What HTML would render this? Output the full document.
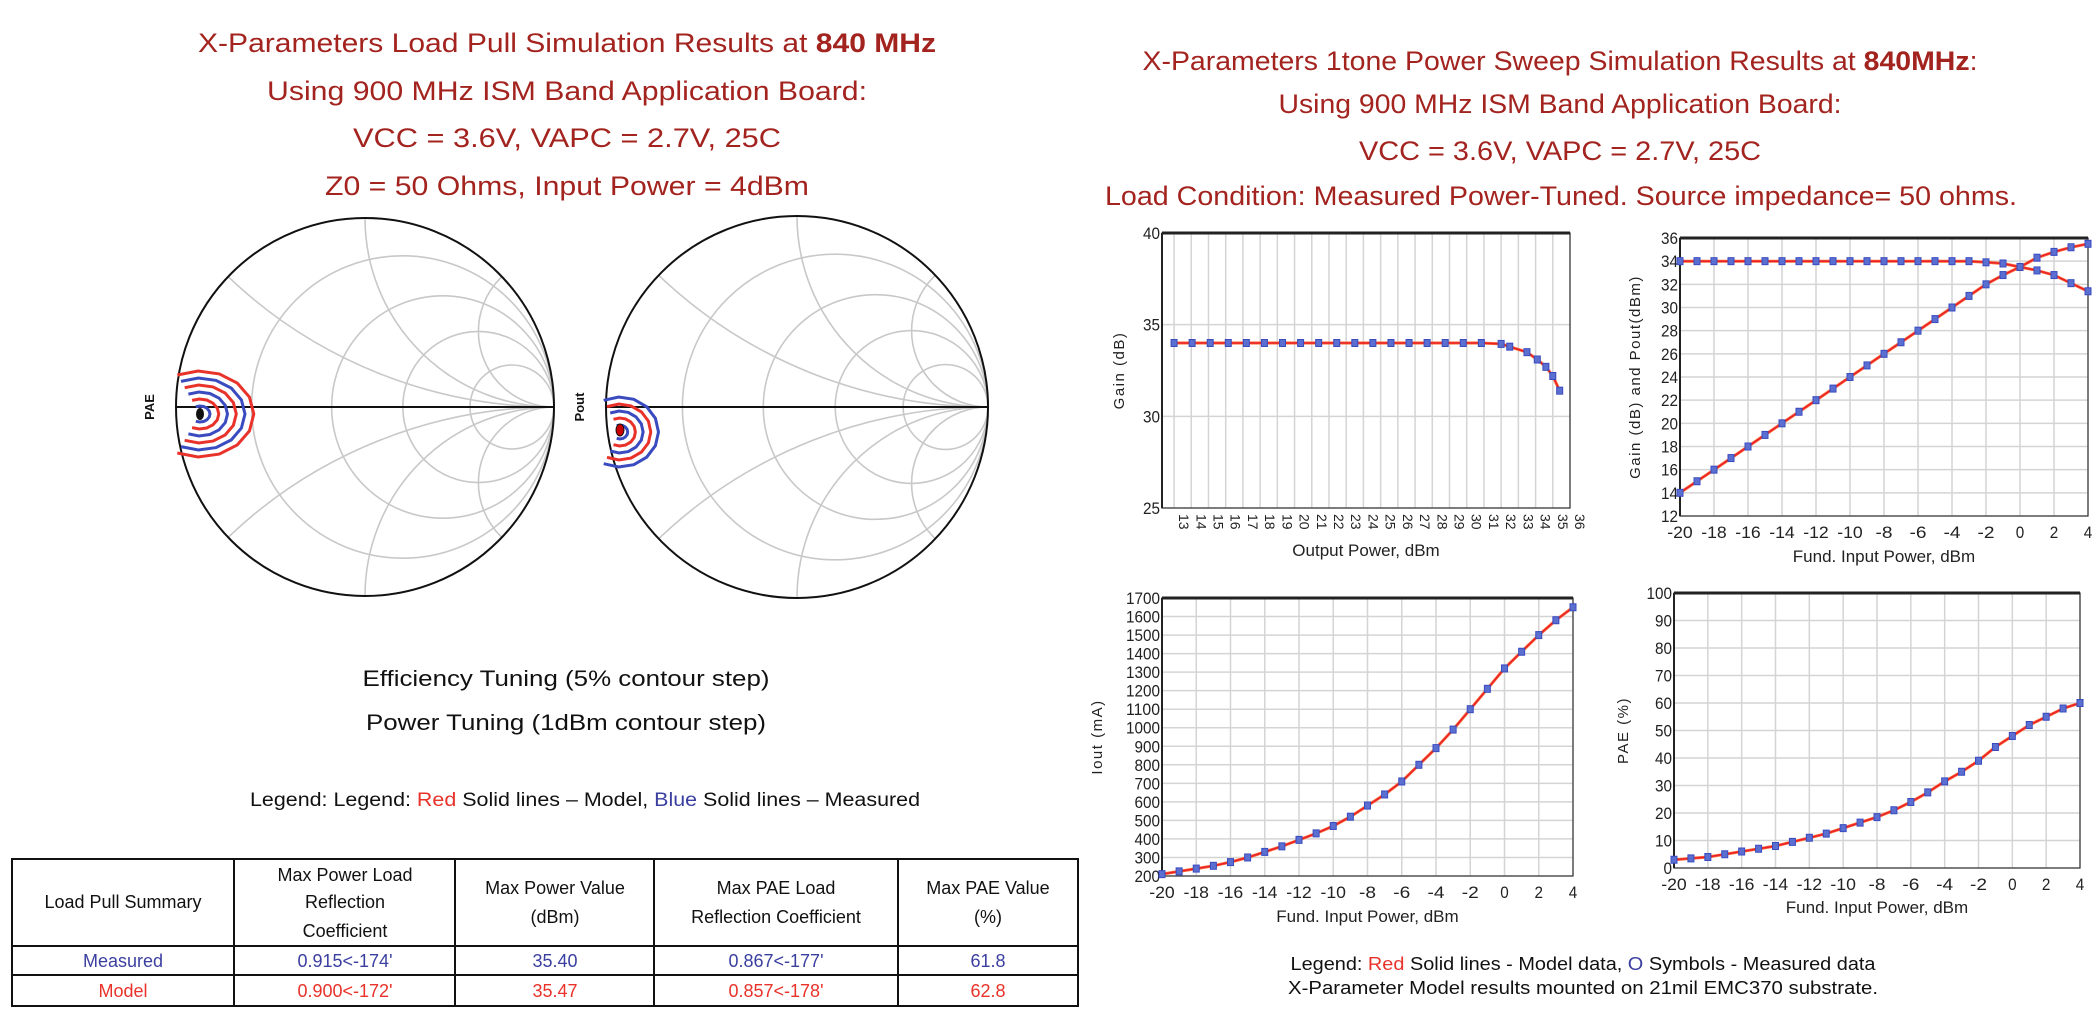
<!DOCTYPE html>
<html><head><meta charset="utf-8"><style>
html,body{margin:0;padding:0;background:#fff;width:2100px;height:1035px;overflow:hidden;}
svg{display:block;font-family:"Liberation Sans",Arial,sans-serif;}
</style></head><body>
<svg id="s" width="2100" height="1035" viewBox="0 0 2100 1035" xmlns="http://www.w3.org/2000/svg">
<rect width="2100" height="1035" fill="#fff"/>
<g fill="#a3231f" font-size="27" text-anchor="middle">
<text x="567" y="52" textLength="738" lengthAdjust="spacingAndGlyphs">X-Parameters Load Pull Simulation Results at <tspan font-weight="bold">840 MHz</tspan></text>
<text x="567" y="100" textLength="600" lengthAdjust="spacingAndGlyphs">Using 900 MHz ISM Band Application Board:</text>
<text x="567" y="147" textLength="428" lengthAdjust="spacingAndGlyphs">VCC = 3.6V, VAPC = 2.7V, 25C</text>
<text x="567" y="195" textLength="484" lengthAdjust="spacingAndGlyphs">Z0 = 50 Ohms, Input Power = 4dBm</text>
<text x="1560" y="70" textLength="835" lengthAdjust="spacingAndGlyphs">X-Parameters 1tone Power Sweep Simulation Results at <tspan font-weight="bold">840MHz</tspan>:</text>
<text x="1560" y="113" textLength="563" lengthAdjust="spacingAndGlyphs">Using 900 MHz ISM Band Application Board:</text>
<text x="1560" y="160" textLength="402" lengthAdjust="spacingAndGlyphs">VCC = 3.6V, VAPC = 2.7V, 25C</text>
<text x="1561" y="205" textLength="912" lengthAdjust="spacingAndGlyphs">Load Condition: Measured Power-Tuned.  Source impedance= 50 ohms.</text>
</g>
<g font-size="22" fill="#111" text-anchor="middle">
<text x="566" y="686" textLength="407" lengthAdjust="spacingAndGlyphs">Efficiency Tuning (5% contour step)</text>
<text x="566" y="730" textLength="400" lengthAdjust="spacingAndGlyphs">Power Tuning (1dBm contour step)</text>
<text x="585" y="806" font-size="19" textLength="670" lengthAdjust="spacingAndGlyphs">Legend: Legend: <tspan fill="#e8322a">Red</tspan> Solid lines – Model, <tspan fill="#3a3fa0">Blue</tspan> Solid lines – Measured</text>
</g>
<g stroke="#111" stroke-width="2" fill="none">
<rect x="12" y="859" width="1066" height="147"/>
<line x1="12" y1="946" x2="1078" y2="946"/><line x1="12" y1="975" x2="1078" y2="975"/>
<line x1="234" y1="859" x2="234" y2="1006"/><line x1="455" y1="859" x2="455" y2="1006"/>
<line x1="654" y1="859" x2="654" y2="1006"/><line x1="898" y1="859" x2="898" y2="1006"/>
</g>
<g font-size="18" fill="#111" text-anchor="middle">
<text x="123" y="908">Load Pull Summary</text>
<text x="345" y="881">Max Power Load</text><text x="345" y="908">Reflection</text><text x="345" y="937">Coefficient</text>
<text x="555" y="894">Max Power Value</text><text x="555" y="923">(dBm)</text>
<text x="776" y="894">Max PAE Load</text><text x="776" y="923">Reflection Coefficient</text>
<text x="988" y="894">Max PAE Value</text><text x="988" y="923">(%)</text>
<g fill="#3a3fa0"><text x="123" y="967">Measured</text><text x="345" y="967">0.915&lt;-174'</text><text x="555" y="967">35.40</text><text x="776" y="967">0.867&lt;-177'</text><text x="988" y="967">61.8</text></g>
<g fill="#e8322a"><text x="123" y="997">Model</text><text x="345" y="997">0.900&lt;-172'</text><text x="555" y="997">35.47</text><text x="776" y="997">0.857&lt;-178'</text><text x="988" y="997">62.8</text></g>
</g>
<g font-size="18" fill="#111" text-anchor="middle">
<text x="1583" y="970" textLength="585" lengthAdjust="spacingAndGlyphs">Legend: <tspan fill="#e8322a">Red</tspan> Solid lines - Model data, <tspan fill="#3a3fa0">O</tspan> Symbols - Measured data</text>
<text x="1583" y="994" textLength="590" lengthAdjust="spacingAndGlyphs">X-Parameter Model results mounted on 21mil EMC370 substrate.</text>
</g>
<g id="dyn"></g>
</svg>
<script>
var g=document.getElementById("dyn"),h="";
function smith(cx,cy,R,lab){
  h+='<g fill="none" stroke="#c8c8c8" stroke-width="1.6">';
  [0.25,0.7,1.5,3.5].forEach(function(r){var rr=R/(1+r);h+='<circle cx="'+(cx+R-rr)+'" cy="'+cy+'" r="'+rr+'"/>';});
  h+='<clipPath id="c'+cx+'"><circle cx="'+cx+'" cy="'+cy+'" r="'+R+'"/></clipPath><g clip-path="url(#c'+cx+')">';
  [0.4,1,2.5].forEach(function(x){var rr=R/x;h+='<circle cx="'+(cx+R)+'" cy="'+(cy-rr)+'" r="'+rr+'"/><circle cx="'+(cx+R)+'" cy="'+(cy+rr)+'" r="'+rr+'"/>';});
  h+='</g></g>';
  h+='<circle cx="'+cx+'" cy="'+cy+'" r="'+R+'" fill="none" stroke="#111" stroke-width="2"/>';
  h+='<line x1="'+(cx-R)+'" y1="'+cy+'" x2="'+(cx+R)+'" y2="'+cy+'" stroke="#111" stroke-width="2"/>';
  h+='<text transform="translate('+(cx-R-22)+','+cy+') rotate(-90)" font-size="13" font-weight="bold" text-anchor="middle" fill="#111">'+lab+'</text>';
}
smith(365,407,189,"PAE");smith(797,407,191,"Pout");
function contours(cx,cy,rs,sx){
  rs.forEach(function(r,i){
    var pts=[];for(var a=-115;a<=115;a+=23){var t=a*Math.PI/180;pts.push((cx+r*sx*Math.cos(t)).toFixed(1)+","+(cy+r*Math.sin(t)).toFixed(1));}
    h+='<polyline points="'+pts.join(" ")+'" fill="none" stroke="'+(i%2?"#e8322a":"#3a4bc0")+'" stroke-width="3"/>';
  });
}
contours(200,414,[8,15,22,29,36,43],1.25);
h+='<ellipse cx="200" cy="414" rx="4" ry="6" fill="#111"/>';
contours(620,432,[7,14,21,28,35],1.1);
h+='<ellipse cx="620" cy="430" rx="4" ry="6" fill="#c00" stroke="#111"/>';

function chart(o){
  var X=function(v){return o.l+(v-o.x0)/(o.x1-o.x0)*(o.r-o.l);},Y=function(v){return o.b-(v-o.y0)/(o.y1-o.y0)*(o.b-o.t);};
  h+='<g stroke="#d4d4d4" stroke-width="1.5">';
  o.xt.forEach(function(v){h+='<line x1="'+X(v)+'" y1="'+o.t+'" x2="'+X(v)+'" y2="'+o.b+'"/>';});
  o.yt.forEach(function(v){h+='<line x1="'+o.l+'" y1="'+Y(v)+'" x2="'+o.r+'" y2="'+Y(v)+'"/>';});
  h+='</g><rect x="'+o.l+'" y="'+o.t+'" width="'+(o.r-o.l)+'" height="'+(o.b-o.t)+'" fill="none" stroke="#333" stroke-width="1.2"/>';
  h+='<line x1="'+o.l+'" y1="'+o.t+'" x2="'+o.r+'" y2="'+o.t+'" stroke="#222" stroke-width="3"/>';
  h+='<line x1="'+o.l+'" y1="'+o.t+'" x2="'+o.l+'" y2="'+o.b+'" stroke="#222" stroke-width="2"/>';
  h+='<g font-size="17" fill="#222">';
  o.yt.forEach(function(v){h+='<text x="'+(o.l-2)+'" y="'+(Y(v)+6)+'" text-anchor="end" textLength="'+(String(v).length*8.5)+'" lengthAdjust="spacingAndGlyphs">'+v+'</text>';});
  o.xt.forEach(function(v){
    if(o.rot) h+='<text transform="translate('+(X(v)+5)+','+(o.b+6)+') rotate(90)" font-size="14">'+v+'</text>';
    else h+='<text x="'+X(v)+'" y="'+(o.b+22)+'" text-anchor="middle" textLength="'+(String(v).length*8.5)+'" lengthAdjust="spacingAndGlyphs">'+v+'</text>';
  });
  h+='<text x="'+((o.l+o.r)/2)+'" y="'+o.xy+'" text-anchor="middle">'+o.xl+'</text>';
  h+='<text transform="translate('+o.yx+','+((o.t+o.b)/2)+') rotate(-90)" text-anchor="middle" font-size="15" letter-spacing="1.5">'+o.yl+'</text></g>';
  o.series.forEach(function(s){
    var p=s.map(function(p){return X(p[0]).toFixed(1)+","+Y(p[1]).toFixed(1);}).join(" ");
    h+='<polyline points="'+p+'" fill="none" stroke="#ff5a1f" stroke-width="3" opacity="0.9"/>';
    h+='<polyline points="'+p+'" fill="none" stroke="#e8202a" stroke-width="1.5"/>';
    s.forEach(function(p){h+='<rect x="'+(X(p[0])-3)+'" y="'+(Y(p[1])-3.5)+'" width="6" height="7" fill="#5b6fd0" stroke="#3a4bc0" stroke-width="1"/>';});
  });
}
var xt=[];for(var i=13;i<=36;i++)xt.push(i);
var gs=[];for(var k=0;k<18;k++)gs.push([13+1.05*k,34]);
gs=gs.concat([[32,33.95],[32.5,33.8],[33.5,33.5],[34.1,33.1],[34.6,32.7],[35.0,32.2],[35.4,31.4]]);
chart({l:1162,r:1570,t:233,b:508,x0:12.3,x1:36,y0:25,y1:40,xt:xt,yt:[25,30,35,40],rot:true,xl:"Output Power, dBm",xy:556,yl:"Gain (dB)",yx:1124,series:[gs]});
var fx=[];for(var v=-20;v<=4;v+=2)fx.push(v);
var gn=[],po=[],pc={"-3":31,"-2":32,"-1":32.8,"0":33.5,"1":34.3,"2":34.8,"3":35.2,"4":35.5},gc={"-2":33.9,"-1":33.8,"0":33.5,"1":33.2,"2":32.8,"3":32.1,"4":31.4};
for(var v=-20;v<=4;v++){gn.push([v,gc[v]!==undefined?gc[v]:34]);po.push([v,pc[v]!==undefined?pc[v]:v+34]);}
var yt2=[];for(var v=12;v<=36;v+=2)yt2.push(v);
chart({l:1680,r:2088,t:238,b:516,x0:-20,x1:4,y0:12,y1:36,xt:fx,yt:yt2,xl:"Fund. Input Power, dBm",xy:562,yl:"Gain (dB) and Pout(dBm)",yx:1640,series:[gn,po]});
var io=[210,225,240,255,275,300,330,360,395,430,470,520,580,640,710,800,890,990,1100,1210,1320,1410,1500,1580,1650];
var pa=[3,3.5,4,5,6,7,8,9.5,11,12.5,14.5,16.5,18.5,21,24,27.5,31.5,35,39,44,48,52,55,58,60];
var yt3=[];for(var v=200;v<=1700;v+=100)yt3.push(v);
chart({l:1162,r:1573,t:598,b:876,x0:-20,x1:4,y0:200,y1:1700,xt:fx,yt:yt3,xl:"Fund. Input Power, dBm",xy:922,yl:"Iout (mA)",yx:1102,series:[io.map(function(y,i){return[i-20,y];})]});
var yt4=[];for(var v=0;v<=100;v+=10)yt4.push(v);
chart({l:1674,r:2080,t:593,b:868,x0:-20,x1:4,y0:0,y1:100,xt:fx,yt:yt4,xl:"Fund. Input Power, dBm",xy:913,yl:"PAE (%)",yx:1628,series:[pa.map(function(y,i){return[i-20,y];})]});
g.innerHTML=h;
</script>
</body></html>
